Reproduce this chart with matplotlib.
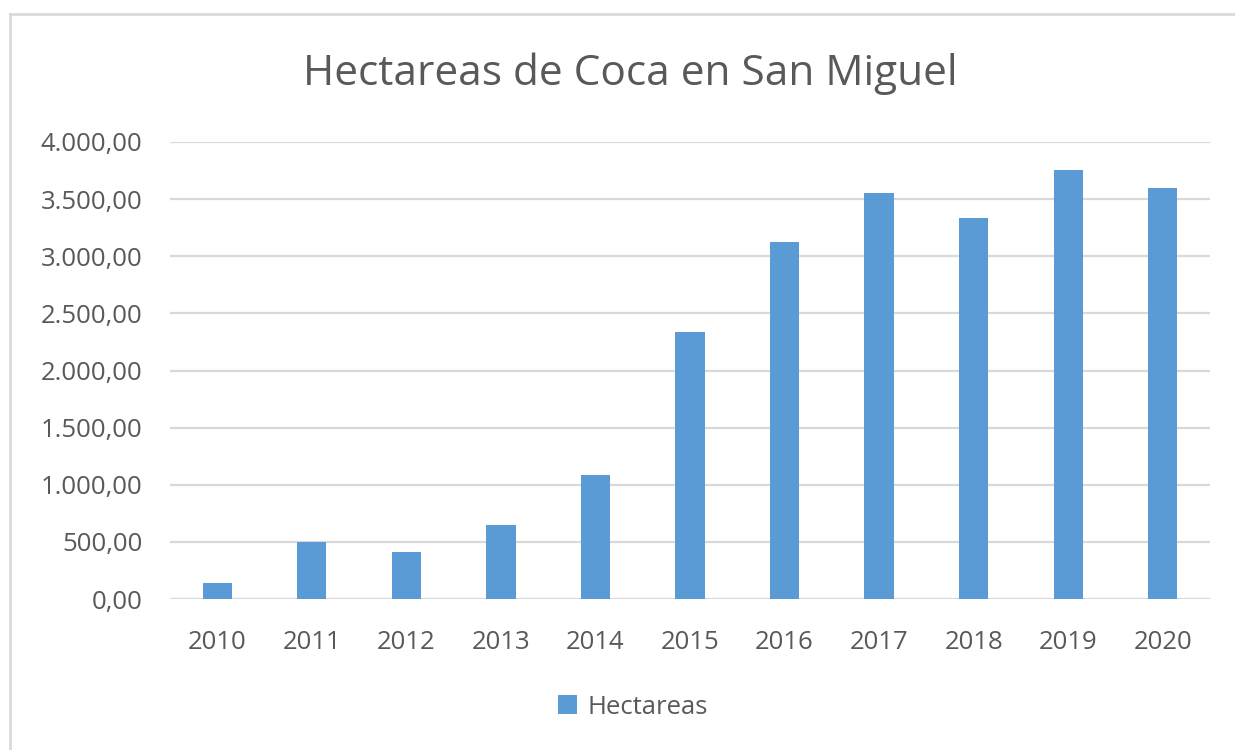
import matplotlib.pyplot as plt
from matplotlib.lines import Line2D
from matplotlib.ticker import FuncFormatter

# === DATOS ===
years = ["2010", "2011", "2012", "2013", "2014", "2015",
         "2016", "2017", "2018", "2019", "2020"]
hectareas = [137, 498, 410, 652, 1082, 2335, 3126, 3555, 3332, 3752, 3600]
y_ticks = [0, 500, 1000, 1500, 2000, 2500, 3000, 3500, 4000]

# === ESTILO ===
bar_color = "#5B9BD5"
text_color = "#595959"
grid_color = "#D9D9D9"
plt.rcParams['font.family'] = ['Open Sans', 'DejaVu Sans']


def es_format(v, pos=None):
    s = f"{v:,.2f}"
    return s.replace(",", "X").replace(".", ",").replace("X", ".")


fig = plt.figure(figsize=(12.35, 7.5), dpi=100)
ax = fig.add_axes([170 / 1235, 1 - 599 / 750, 1040 / 1235, 457 / 750])

x = range(len(years))
ax.bar(x, hectareas, width=0.31, color=bar_color, label="Hectareas", zorder=3)

ax.set_xlim(-0.5, len(years) - 0.5)
ax.set_ylim(0, 4000)
ax.set_yticks(y_ticks)
ax.yaxis.set_major_formatter(FuncFormatter(es_format))
ax.set_xticks(list(x))
ax.set_xticklabels(years)

ax.grid(axis="y", color=grid_color, linewidth=1.6, zorder=0)
for sp in ax.spines.values():
    sp.set_visible(False)
ax.tick_params(axis="both", length=0, labelsize=18.5, colors=text_color)
ax.tick_params(axis="y", pad=20)
ax.tick_params(axis="x", pad=22)

fig.text(0.510, 1 - 74 / 750, "Hectareas de Coca en San Miguel",
         ha="center", va="center", fontsize=30.5, color=text_color)

leg = fig.legend(loc="center", bbox_to_anchor=(633 / 1235, 1 - 707 / 750),
                 frameon=False, fontsize=18.5, handlelength=0.75, handleheight=0.75,
                 handletextpad=0.4, labelcolor=text_color)

# marco del grafico
fig.add_artist(Line2D([10 / 1235, 1], [1 - 14 / 750, 1 - 14 / 750],
                      transform=fig.transFigure, color=grid_color, linewidth=2))
fig.add_artist(Line2D([10 / 1235, 10 / 1235], [0, 1 - 14 / 750],
                      transform=fig.transFigure, color=grid_color, linewidth=2))

fig.savefig("out.png", dpi=100)
